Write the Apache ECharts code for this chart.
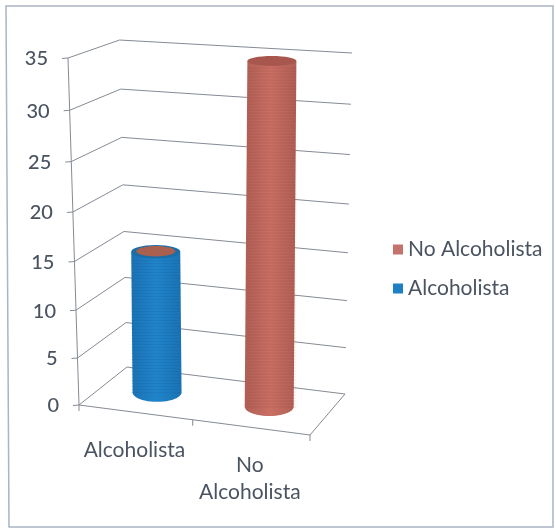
<!DOCTYPE html>
<html>
<head>
<meta charset="utf-8">
<style>html,body{margin:0;padding:0;background:#fff}#c{width:556px;height:530px;filter:blur(0.45px)}</style>
<script src="https://cdn.jsdelivr.net/npm/echarts@6/dist/echarts.min.js"></script>
</head>
<body>
<div id="c"></div>
<script>
var categories = ['Alcoholista', 'No Alcoholista'];
var alcoholistaValues = [[0, 15]];
var noAlcoholistaValues = [[1, 35]];
var yTicks = [0, 5, 10, 15, 20, 25, 30, 35];
var legendOrder = ['No Alcoholista', 'Alcoholista'];

// Perspective of the 3D box: X along categories, Y into the page, Z up, each 0..1
var F = 'Lato, Carlito, sans-serif', TXT = '#4a5360', LINE = '#858b94';
var G = {left: 79, top: 58, w: 231, h: 347};
var W = {a: -0.03066, b: 0.06455, c: -0.06};
var PX = {o: 79, x: 221.5, y: 56.2, z: -15.08};
var PY = {o: 405, x: 16.66, y: -14.31, z: -350.48};
function project(X, Y, Z) {
  var w = 1 + W.a * X + W.b * Y + W.c * Z;
  return [
    (PX.o + PX.x * X + PX.y * Y + PX.z * Z) / w + 1.2 * X * Y * Z,
    (PY.o + PY.x * X + PY.y * Y + PY.z * Z) / w - 5.4 * X * Y * Z
  ];
}
function zOf(api, v) { return (G.top + G.h - api.coord([0, v])[1]) / G.h; }
function xOf(api, i) { return (api.coord([i, 0])[0] - G.left) / G.w; }
function line(pts, w) {
  return {type: 'polyline', shape: {points: pts}, style: {fill: null, stroke: LINE, lineWidth: w || 1}};
}

function renderWall(params, api) {
  var v = api.value(0), Z = zOf(api, v);
  var a = project(0, 0, Z), b = project(0, 1, Z), c = project(1, 1, Z);
  return {type: 'group', children: [
    line([a, b, c]),
    line([[a[0] - 6, a[1] + 0.5], a]),
    {type: 'text', style: {x: a[0] - 20, y: a[1] + 1, text: String(v), font: '500 20px ' + F, fill: TXT, align: 'right', verticalAlign: 'middle'}}
  ]};
}

function renderFloor() {
  var a = project(0, 0, 0), b = project(1, 0, 0), c = project(1, 1, 0), m = project(0.5, 0, 0), t = project(0, 0, 1);
  return {type: 'group', children: [
    line([t, a]),
    line([a, b, c]),
    line([a, [a[0], a[1] + 6]]),
    line([m, [m[0], m[1] + 6]]),
    line([b, [b[0], b[1] + 6]])
  ]};
}

function renderCat(params, api) {
  var i = api.value(0), X = xOf(api, i), p = project(X, 0, 0);
  return {type: 'text', style: {x: p[0] - 1, y: p[1] + 24, text: categories[i].replace(' ', '\n'),
    font: '21px ' + F, lineHeight: 27, fill: TXT, align: 'center', verticalAlign: 'top'}};
}

function cylinder(stops, topFill, innerFill, shade) {
  return function (params, api) {
    var X = xOf(api, api.value(0)), Z = zOf(api, api.value(1));
    var b = project(X, 0.5, 0), t = project(X, 0.5, Z);
    var cxB = b[0] - 1.5, cxT = t[0] - 0.5;
    var rx = 24.5, ryB = 9.5, ryT = 8 - 3 * Z;
    var grad = {type: 'linear', x: 0, y: 0, x2: 1, y2: 0, colorStops: stops};
    var pts = [], n = 24, k;
    for (k = 0; k <= n; k++) {
      var ang = Math.PI * k / n;
      pts.push([cxB + rx * Math.cos(ang), b[1] + ryB * Math.sin(ang)]);
    }
    pts.push([cxT - rx, t[1]], [cxT + rx, t[1]]);
    var kids = [{type: 'polygon', shape: {points: pts}, style: {fill: grad}}];
    // fine horizontal banding of the cylinder surface
    for (var y = t[1] + ryT + 2; y < b[1] + 2; y += 3) {
      kids.push({type: 'line', shape: {x1: cxT - rx, y1: y, x2: cxT + rx, y2: y}, style: {stroke: shade, lineWidth: 1}});
    }
    kids.push({type: 'ellipse', shape: {cx: cxT, cy: t[1], rx: rx, ry: ryT}, style: {fill: topFill}});
    if (innerFill) {
      kids.push({type: 'ellipse', shape: {cx: cxT, cy: t[1] - 0.5, rx: rx - 5, ry: ryT - 1.5}, style: {fill: innerFill}});
    }
    return {type: 'group', children: kids};
  };
}

var chart = echarts.init(document.getElementById('c'), null, {renderer: 'canvas'});
chart.setOption({
  animation: false,
  backgroundColor: '#ffffff',
  grid: {left: G.left, top: G.top, width: G.w, height: G.h},
  xAxis: {type: 'category', data: categories, show: false},
  yAxis: {type: 'value', min: 0, max: 35, interval: 5, show: false},
  legend: {
    data: legendOrder, orient: 'vertical', left: 388, top: 234, itemGap: 18,
    itemWidth: 10, itemHeight: 10, icon: 'rect',
    textStyle: {fontFamily: F, fontSize: 21, color: TXT}, selectedMode: false
  },
  graphic: [{
    type: 'polygon', silent: true, z: -1,
    shape: {points: [[6, 6], [553, 6], [553, 527], [9, 527]]},
    style: {fill: '#ffffff', stroke: '#a9b5c2', lineWidth: 1.5}
  }],
  series: [
    {type: 'custom', name: 'walls', coordinateSystem: 'cartesian2d', silent: true, z: 1,
     data: yTicks.map(function (v) { return [v]; }), renderItem: renderWall, encode: {y: 0}},
    {type: 'custom', name: 'floor', coordinateSystem: 'cartesian2d', silent: true, z: 1,
     data: [[0]], renderItem: renderFloor},
    {type: 'custom', name: 'cats', coordinateSystem: 'cartesian2d', silent: true, z: 1,
     data: categories.map(function (c, i) { return [i]; }), renderItem: renderCat},
    {type: 'custom', name: 'Alcoholista', coordinateSystem: 'cartesian2d', z: 3,
     itemStyle: {color: '#1f7fc4'}, data: alcoholistaValues,
     renderItem: cylinder([{offset: 0, color: '#1a72b4'}, {offset: 0.5, color: '#2084ca'}, {offset: 1, color: '#1a72b4'}], '#1b6da8', '#a9604f', 'rgba(15,70,120,0.12)')},
    {type: 'custom', name: 'No Alcoholista', coordinateSystem: 'cartesian2d', z: 3,
     itemStyle: {color: '#c4726c'}, data: noAlcoholistaValues,
     renderItem: cylinder([{offset: 0, color: '#b05f55'}, {offset: 0.5, color: '#ca6f64'}, {offset: 1, color: '#b05f55'}], '#a8574e', null, 'rgba(110,40,30,0.12)')}
  ]
});
</script>
</body>
</html>
